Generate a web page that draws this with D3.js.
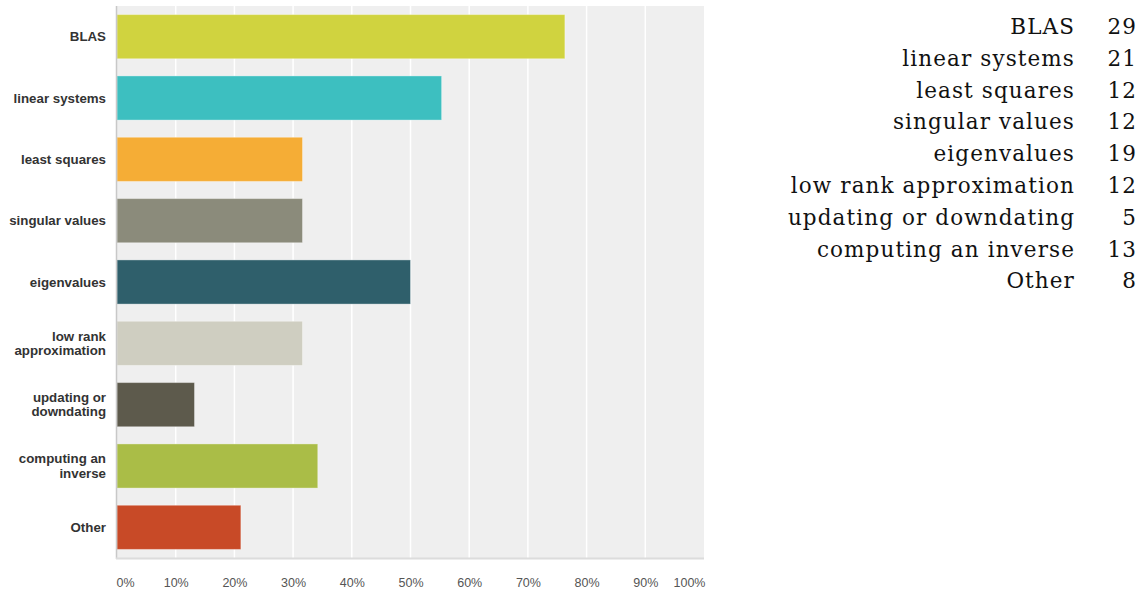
<!DOCTYPE html>
<html><head><meta charset="utf-8">
<script src="https://cdn.jsdelivr.net/npm/d3@7/dist/d3.min.js"></script>
<style>body{margin:0;background:#fff;}svg{display:block;}</style>
</head><body><svg id="c" width="1143" height="596"></svg>
<script>
const categories = ["BLAS","linear systems","least squares","singular values","eigenvalues","low rank approximation","updating or downdating","computing an inverse","Other"];
const labelLines = [["BLAS"],["linear systems"],["least squares"],["singular values"],["eigenvalues"],["low rank","approximation"],["updating or","downdating"],["computing an","inverse"],["Other"]];
const counts = [29,21,12,12,19,12,5,13,8];
const percents = [76.3,55.3,31.6,31.6,50.0,31.6,13.2,34.2,21.1];
const colors = ["#d0d33f","#3dbfc0","#f5ad36","#8b8b7b","#2f5f6b","#cfcec1","#5d5a4c","#aabd47","#c84a27"];
const ticks = [0,10,20,30,40,50,60,70,80,90,100];

const svg = d3.select("#c");
const L = 117, R = 704, T = 6, B = 558;
const x = d3.scaleLinear().domain([0,100]).range([L,R]);
const y = d3.scaleBand().domain(categories).range([T,B]).paddingInner(0.28).paddingOuter(0.14);

svg.append("rect").attr("x",L).attr("y",T).attr("width",R-L).attr("height",B-T).attr("fill","#efefef");
svg.append("g").selectAll("line").data(ticks.slice(1,-1)).join("line")
  .attr("x1",d=>x(d)).attr("x2",d=>x(d)).attr("y1",T).attr("y2",B)
  .attr("stroke","#fff").attr("stroke-width",1.5);

svg.append("g").selectAll("rect").data(categories).join("rect")
  .attr("x",L).attr("y",d=>y(d)).attr("height",y.bandwidth())
  .attr("width",(d,i)=>x(percents[i])-L)
  .attr("fill",(d,i)=>colors[i])
  .attr("stroke","rgba(255,255,255,0.35)").attr("stroke-width",1);

svg.append("line").attr("x1",L-0.5).attr("x2",L-0.5).attr("y1",T).attr("y2",B+1).attr("stroke","#c8c8c8").attr("stroke-width",1.5);
svg.append("line").attr("x1",L-1).attr("x2",R).attr("y1",B+0.5).attr("y2",B+0.5).attr("stroke","#dcdcdc").attr("stroke-width",2);

const xa = d3.axisBottom(x).tickValues(ticks).tickFormat(d=>d+"%").tickSize(0).tickPadding(0);
const gx = svg.append("g").attr("transform",`translate(0,${B+29})`).call(xa);
gx.select(".domain").remove();
gx.selectAll("text").attr("font-family","Liberation Sans, Arial, sans-serif").attr("font-size",12.5).attr("fill","#555").attr("dy","0");
gx.selectAll("text").filter(d=>d===0).attr("text-anchor","start").attr("dx",-1);
gx.selectAll("text").filter(d=>d===100).attr("text-anchor","end").attr("dx",1);

const gy = svg.append("g");
categories.forEach((c,i)=>{
  const lines = labelLines[i];
  const cy = y(c) + y.bandwidth()/2;
  const t = gy.append("text").attr("x",106).attr("text-anchor","end")
    .attr("font-family","Liberation Sans, Arial, sans-serif").attr("font-size",13.3).attr("font-weight","bold").attr("fill","#333");
  lines.forEach((ln,j)=>{
    t.append("tspan").attr("x",106).attr("y",cy + 4.5 + (j-(lines.length-1)/2)*14.5).text(ln);
  });
});

const lg = svg.append("g").attr("font-family","DejaVu Serif, Liberation Serif, serif").attr("font-size",21.5).attr("fill","#111").attr("letter-spacing","1.1px");
categories.forEach((c,i)=>{
  const yy = 34 + i*31.8;
  lg.append("text").attr("x",1075).attr("y",yy).attr("text-anchor","end").text(c);
  lg.append("text").attr("x",1137).attr("y",yy).attr("text-anchor","end").text(counts[i]);
});
</script></body></html>
